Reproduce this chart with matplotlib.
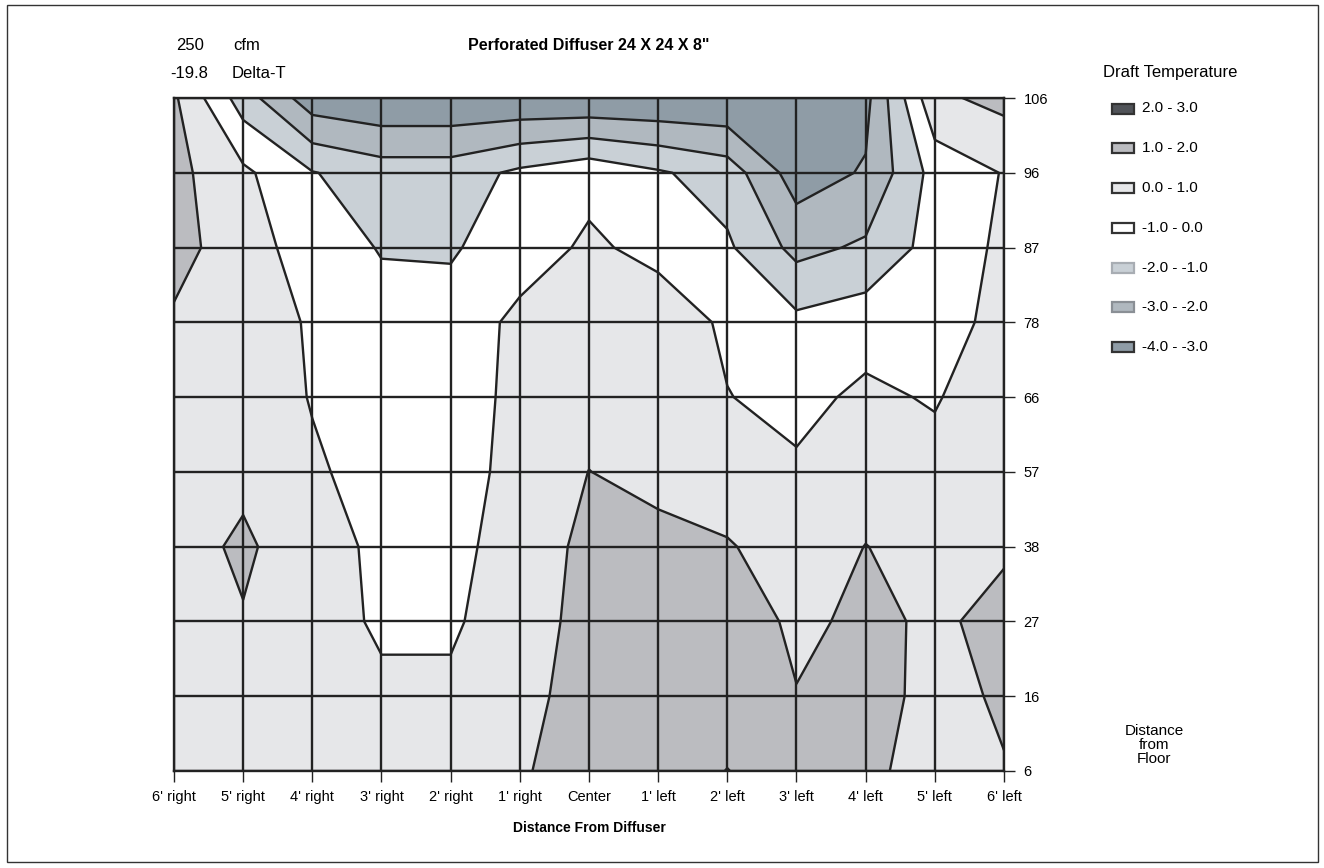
## Contour chart of draft temperature around a perforated diffuser
import numpy as np
import matplotlib.pyplot as plt
from matplotlib.patches import Rectangle

plt.rcParams['font.family'] = ['Liberation Sans', 'DejaVu Sans']

## Categories
positions = ["6' right", "5' right", "4' right", "3' right", "2' right", "1' right",
             "Center", "1' left", "2' left", "3' left", "4' left", "5' left", "6' left"]
heights = ["106", "96", "87", "78", "66", "57", "38", "27", "16", "6"]

## Draft temperature per height (6' right -> 6' left)
t_106 = [1.15, -1.5, -3.6, -3.9, -3.9, -3.9, -3.95, -3.95, -3.95, -3.9, -3.3, 0.8, 1.3]
t_96 = [1.3, 0.2, -0.95, -1.5, -1.5, -0.8, -0.3, -0.88, -1.46, -3.5, -2.9, -0.63, 0.05]
t_87 = [1.4, 0.38, -0.4, -1.07, -1.1, -0.5, 0.17, -0.3, -0.85, -2.3, -1.84, -0.6, 0.19]
t_78 = [0.85, 0.5, -0.1, -0.6, -0.64, 0.26, 0.6, 0.6, -0.17, -0.75, -0.44, -0.3, 0.22]
t_66 = [0.7, 0.9, -0.08, -0.5, -0.5, 0.27, 0.7, 0.5, 0.03, -0.3, 0.21, -0.1, 0.8]
t_57 = [0.7, 0.85, 0.2, -0.55, -0.5, 0.38, 1.01, 0.75, 0.3, 0.15, 0.5, 0.4, 0.6]
t_38 = [0.73, 1.11, 0.6, -0.3, -0.35, 0.55, 1.2, 1.25, 1.1, 0.4, 1.02, 0.6, 0.95]
t_27 = [0.7, 0.955, 0.6, -0.2, -0.2, 0.8, 1.14, 1.3, 1.3, 0.9, 1.1, 0.93, 1.12]
t_16 = [0.6, 0.6, 0.6, 0.25, 0.25, 0.7, 1.4, 1.5, 1.5, 1.02, 1.4, 0.69, 1.13]
t_6 = [0.6, 0.6, 0.6, 0.6, 0.6, 0.9, 1.45, 1.5, 2.02, 1.5, 1.3, 0.44, 0.95]

## Bands (low -> high) and legend text
levels = [-4, -3, -2, -1, 0, 1, 2, 3]
band_colors = ['#8f9ca6', '#b0b8bf', '#c9d0d6', '#ffffff', '#e6e7e9', '#bbbcc0', '#505358']
band_labels = ['-4.0 - -3.0', '-3.0 - -2.0', '-2.0 - -1.0', '-1.0 - 0.0',
               '0.0 - 1.0', '1.0 - 2.0', '2.0 - 3.0']
band_edges = ['#333333', '#8a8f95', '#a8adb3', '#333333', '#333333', '#333333', '#333333']

Z = np.array([t_106, t_96, t_87, t_78, t_66, t_57, t_38, t_27, t_16, t_6])
X = np.arange(len(positions))
Y = np.arange(len(heights))

fig = plt.figure(figsize=(13.24, 8.68), dpi=100)
ax = fig.add_axes([174 / 1324, 1 - 771 / 868, (1004 - 174) / 1324, (771 - 98) / 868])

ax.contourf(X, Y, Z, levels=levels, colors=band_colors)
ax.contour(X, Y, Z, levels=levels[1:-1], colors='#222222', linewidths=1.7,
           linestyles='solid')

ax.set_xlim(0, len(positions) - 1)
ax.set_ylim(len(heights) - 1, 0)
ax.set_xticks(X)
ax.set_xticklabels(positions, fontsize=10.5)
ax.set_yticks(Y)
ax.set_yticklabels(heights, fontsize=10.5)
ax.yaxis.tick_right()
ax.tick_params(axis='both', direction='out', length=8, width=1, color='#222222', pad=6)
ax.set_axisbelow(False)
ax.grid(True, color='#222222', linewidth=1.7)
for s in ax.spines.values():
    s.set_color('#222222')
    s.set_linewidth(1.7)

ax.set_xlabel('Distance From Diffuser', fontsize=10, fontweight='bold', labelpad=12)

## Header texts
fig.text(176 / 1324, 1 - 45 / 868, '250', fontsize=12, va='center')
fig.text(233 / 1324, 1 - 45 / 868, 'cfm', fontsize=12, va='center')
fig.text(170 / 1324, 1 - 73 / 868, '-19.8', fontsize=12, va='center')
fig.text(232 / 1324, 1 - 73 / 868, 'Delta-T', fontsize=12, va='center')
fig.text(589 / 1324, 1 - 46 / 868, 'Perforated Diffuser 24 X 24 X 8"', fontsize=11.5,
         fontweight='bold', ha='center', va='center')
fig.text(1170 / 1324, 1 - 72 / 868, 'Draft Temperature', fontsize=12, ha='center', va='center')

## Legend drawn by hand (highest band on top)
for i, k in enumerate(range(len(band_colors) - 1, -1, -1)):
    yc = 108.5 + i * 39.75
    fig.patches.append(Rectangle((1112 / 1324, 1 - (yc + 5) / 868), 22 / 1324, 10 / 868,
                                 transform=fig.transFigure, facecolor=band_colors[k],
                                 edgecolor=band_edges[k], linewidth=1.6))
    fig.text(1142 / 1324, 1 - yc / 868, band_labels[k], fontsize=11, va='center')

fig.text(1154 / 1324, 1 - 745 / 868, 'Distance\nfrom\nFloor', fontsize=11,
         ha='center', va='center', linespacing=1.0)

## Outer frame
fig.patches.append(Rectangle((7 / 1324, 1 - 862 / 868), 1311 / 1324, 857 / 868,
                             transform=fig.transFigure, fill=False, edgecolor='#333333',
                             linewidth=1))

plt.savefig('out.png', dpi=100)
